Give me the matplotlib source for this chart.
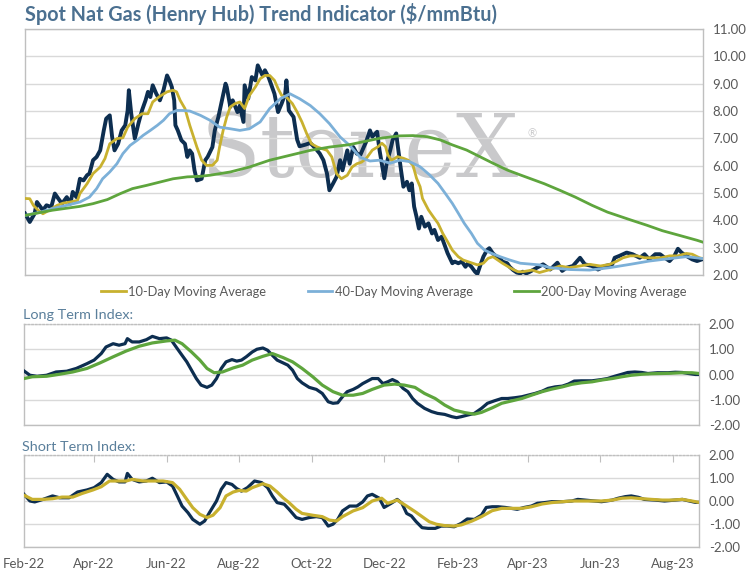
import numpy as np
import pandas as pd
import matplotlib
matplotlib.use("Agg")
import matplotlib.pyplot as plt
import matplotlib.dates as mdates

plt.rcParams['font.family'] = ['Lato', 'DejaVu Sans']

start = pd.Timestamp("2022-02-01")

# spot price, day offsets from 1 Feb 2022
spot_day = [0,4,8,10,13,15,18,22,25,28,31,35,38,40,43,46,49,52,54,57,60,63,66,68,71,73,75,78,81,84,
            86,87,89,92,95,98,101,103,105,107,110,113,116,119,121,123,125,126,128,131,134,136,138,140,142,144,
            148,151,153,157,159,162,165,168,169,172,174,178,180,183,184,187,190,193,195,199,201,204,207,209,
            212,215,218,219,221,225,228,230,235,239,243,247,250,253,255,258,261,264,266,270,272,275,278,281,
            283,286,289,291,295,297,301,303,306,308,311,312,315,317,320,322,324,326,328,330,332,335,338,341,
            343,346,349,352,354,358,360,363,366,369,371,374,377,379,381,384,387,389,392,395,398,400,404,406,
            409,412,415,417,420,423,429,434,440,446,450,454,459,465,469,475,480,486,492,494,498,504,509,515,
            519,523,528,532,536,540,544,547,550,554,559,563,567]
spot_val = [4.25,3.94,4.24,4.67,4.49,4.37,4.55,4.49,4.98,4.79,4.61,4.85,4.61,5.04,4.85,5.52,5.46,5.65,5.71,6.20,
            6.32,6.56,7.29,7.72,7.84,7.05,6.56,6.80,7.29,7.48,8.02,8.76,7.90,6.99,7.54,8.02,8.39,8.70,8.51,8.94,
            8.63,8.39,8.76,9.30,9.12,8.88,8.39,7.48,7.29,6.93,6.80,6.32,6.56,6.44,5.83,5.46,5.52,6.20,6.32,6.68,
            7.29,7.78,8.39,9.00,8.88,8.15,8.39,7.96,8.20,7.60,8.94,8.45,9.24,9.12,9.67,9.30,9.49,9.24,8.88,8.63,
            7.96,8.27,8.63,9.12,8.02,7.78,6.95,6.71,6.77,6.83,6.65,6.44,6.20,5.71,5.10,5.34,5.59,6.20,5.83,6.56,
            6.07,6.68,6.44,6.40,6.60,6.90,7.29,7.06,7.24,6.57,5.54,6.09,6.57,6.94,7.18,6.82,5.84,5.23,5.41,5.10,
            5.35,4.50,4.13,3.70,4.13,3.77,3.89,3.52,3.65,3.28,3.40,3.04,2.80,2.43,2.49,2.43,2.49,2.30,2.43,2.30,
            2.12,2.04,2.30,2.67,2.91,2.98,2.79,2.67,2.60,2.49,2.43,2.30,2.18,2.09,2.06,2.12,2.06,2.12,2.27,2.39,
            2.20,2.45,2.15,2.27,2.33,2.63,2.39,2.33,2.20,2.33,2.39,2.63,2.70,2.82,2.76,2.63,2.76,2.57,2.76,2.76,
            2.63,2.51,2.70,2.96,2.82,2.70,2.57,2.51,2.57]

ma10_day = [0,4,7,11,15,21,27,32,38,44,46,52,57,63,67,71,77,82,86,92,98,103,107,113,119,124,127,130,134,138,
            144,148,152,157,161,163,166,169,172,176,180,184,188,193,197,201,205,209,212,215,219,224,228,232,236,
            240,245,249,253,257,261,265,270,274,278,282,286,291,296,299,302,304,307,310,312,317,321,325,328,331,
            333,338,342,346,350,354,358,363,367,371,375,379,384,388,392,396,400,405,409,413,417,421,425,431,440,
            448,456,465,473,482,490,496,501,507,513,519,526,533,540,547,554,559,565,568]
ma10_val = [4.80,4.79,4.55,4.37,4.24,4.39,4.55,4.63,4.67,4.73,4.98,5.34,5.71,5.95,6.26,6.80,6.99,7.02,7.41,7.72,
            7.90,7.90,8.33,8.54,8.70,8.76,8.70,8.39,8.09,7.48,6.68,6.20,6.01,6.01,6.20,6.68,7.29,7.78,8.15,8.27,
            8.33,8.09,8.57,8.88,9.18,9.30,9.30,9.12,8.82,8.57,8.51,8.27,7.96,7.60,7.17,6.80,6.68,6.62,6.56,6.32,
            5.71,5.52,5.65,5.95,6.07,6.13,6.27,6.57,6.70,6.82,6.70,6.39,6.20,6.27,6.33,6.27,6.20,6.02,5.54,5.23,
            4.80,4.38,4.13,3.89,3.52,3.22,2.91,2.67,2.55,2.49,2.43,2.37,2.43,2.61,2.67,2.55,2.43,2.30,2.20,2.12,
            2.12,2.15,2.18,2.09,2.20,2.33,2.27,2.33,2.39,2.33,2.39,2.51,2.63,2.70,2.70,2.63,2.63,2.63,2.70,2.70,
            2.79,2.76,2.63,2.60]

ma40_day = [0,13,23,35,46,54,60,65,71,77,82,88,94,99,105,111,116,121,127,132,138,147,155,163,172,180,188,197,
            205,214,222,230,239,247,255,264,272,281,289,297,306,314,322,331,339,346,352,358,363,368,374,379,385,
            391,398,406,415,423,431,440,456,473,490,507,523,540,554,568]
ma40_val = [4.18,4.30,4.43,4.55,4.67,4.85,5.16,5.52,5.77,6.07,6.44,6.74,6.93,7.11,7.29,7.48,7.66,7.90,8.02,8.02,
            8.00,7.84,7.66,7.41,7.35,7.29,7.35,7.60,8.09,8.45,8.63,8.45,8.20,7.90,7.54,7.05,6.74,6.30,6.17,6.20,
            6.09,6.20,6.15,5.96,5.66,5.35,4.99,4.62,4.26,3.89,3.52,3.16,2.91,2.79,2.67,2.55,2.43,2.40,2.37,2.27,
            2.20,2.18,2.27,2.39,2.51,2.60,2.67,2.60]

ma200_day = [0,23,46,57,69,80,90,102,113,124,136,147,155,172,188,205,222,239,255,272,285,297,314,325,337,348,
             358,370,381,392,404,415,425,435,448,461,475,488,507,521,534,549,563,568]
ma200_val = [4.18,4.37,4.51,4.61,4.76,4.98,5.16,5.28,5.40,5.52,5.59,5.61,5.65,5.77,5.95,6.20,6.38,6.56,6.68,6.77,
             6.89,7.00,7.09,7.10,7.06,6.94,6.76,6.57,6.33,6.09,5.84,5.66,5.50,5.34,5.10,4.85,4.55,4.30,4.02,3.82,
             3.62,3.44,3.27,3.20]

lt_day = [0,5,11,19,27,36,44,53,59,65,69,75,80,85,87,91,97,103,108,114,120,124,128,133,137,141,145,149,154,158,
          162,166,170,175,179,183,187,192,196,201,205,209,213,218,222,226,230,234,240,246,251,256,260,264,268,
          272,277,281,285,289,293,298,302,306,310,314,319,323,327,331,337,343,348,354,360,364,368,373,379,385,
          390,396,402,407,413,419,424,430,436,441,447,453,458,463,469,478,486,491,497,503,508,514,520,525,533,
          542,548,554,559,565,568]
lt_val = [0.14,-0.03,-0.07,-0.03,0.10,0.13,0.24,0.43,0.57,0.83,1.09,1.22,1.16,1.22,1.42,1.29,1.29,1.38,1.51,1.42,
          1.45,1.36,1.09,0.76,0.50,0.17,-0.16,-0.42,-0.51,-0.42,-0.16,0.24,0.50,0.59,0.53,0.57,0.70,0.89,1.00,1.05,
          0.96,0.76,0.57,0.46,0.37,0.17,-0.16,-0.33,-0.51,-0.59,-0.75,-1.08,-1.14,-1.12,-0.88,-0.68,-0.59,-0.49,
          -0.36,-0.26,-0.16,-0.16,-0.36,-0.29,-0.20,-0.29,-0.55,-0.68,-0.95,-1.14,-1.34,-1.47,-1.54,-1.58,-1.67,
          -1.71,-1.67,-1.61,-1.54,-1.34,-1.14,-1.04,-0.95,-0.95,-0.92,-0.88,-0.82,-0.75,-0.66,-0.55,-0.49,-0.46,
          -0.38,-0.26,-0.25,-0.25,-0.20,-0.16,-0.07,0.01,0.08,0.10,0.08,0.04,0.07,0.07,0.09,0.08,0.04,0.00,0.00]

lt_ma_day = [0,7,19,30,41,53,64,75,86,97,108,120,127,133,141,148,154,160,167,176,184,192,201,209,218,226,234,
             243,251,260,268,277,285,293,303,312,320,329,337,346,354,362,371,379,385,394,402,410,419,427,436,444,
             453,461,469,478,486,495,503,511,520,528,537,545,554,562,568]
lt_ma_val = [-0.16,-0.09,-0.07,0.01,0.10,0.24,0.46,0.70,0.93,1.12,1.25,1.33,1.36,1.22,0.89,0.57,0.24,0.07,0.10,
             0.26,0.37,0.57,0.72,0.83,0.67,0.50,0.24,-0.09,-0.42,-0.68,-0.82,-0.82,-0.75,-0.59,-0.42,-0.38,-0.42,
             -0.51,-0.75,-0.95,-1.21,-1.41,-1.51,-1.57,-1.50,-1.32,-1.14,-1.05,-0.95,-0.82,-0.68,-0.58,-0.49,-0.39,
             -0.33,-0.29,-0.22,-0.16,-0.09,-0.03,0.01,0.03,0.04,0.05,0.07,0.07,0.04]

st_day = [0,5,9,16,24,30,38,45,53,59,65,70,75,80,85,87,91,97,103,108,114,120,125,129,133,138,142,148,152,156,
          162,166,170,175,179,183,188,194,200,205,209,213,219,223,229,234,240,246,251,256,260,264,268,274,280,
          285,289,293,299,303,309,314,318,322,326,330,335,340,346,351,356,362,368,373,379,385,389,394,399,405,
          410,415,421,427,432,438,444,453,461,466,472,478,486,495,500,506,511,517,522,531,539,548,554,559,565,568]
st_val = [0.29,0.00,-0.04,0.07,0.22,0.14,0.14,0.39,0.48,0.58,0.80,1.16,0.94,0.83,0.83,1.20,0.94,0.83,0.87,0.99,
          0.80,0.83,0.65,0.22,-0.22,-0.51,-0.80,-1.01,-0.87,-0.51,0.00,0.51,0.80,0.72,0.54,0.43,0.58,0.87,0.80,
          0.58,0.22,-0.07,-0.14,-0.36,-0.72,-0.80,-0.72,-0.68,-0.72,-1.09,-1.01,-0.80,-0.43,-0.22,-0.22,-0.04,
          0.22,0.29,0.12,-0.28,-0.10,0.07,-0.10,-0.54,-0.65,-0.90,-1.16,-1.19,-1.19,-1.09,-1.09,-1.12,-0.97,-0.78,
          -0.80,-0.61,-0.28,-0.25,-0.25,-0.28,-0.32,-0.36,-0.28,-0.22,-0.10,-0.07,-0.03,-0.03,0.00,0.07,0.04,0.01,
          -0.03,0.04,0.12,0.19,0.22,0.16,0.07,0.04,0.00,0.04,0.07,0.01,-0.06,-0.06]

st_ma_day = [0,7,16,24,32,41,49,58,65,72,79,86,91,100,108,117,125,131,137,142,148,154,159,165,170,176,181,187,
             192,201,207,213,218,223,229,234,243,251,257,263,268,277,285,293,301,306,314,322,329,335,341,347,354,
             362,368,377,385,394,402,410,419,427,436,444,453,461,469,478,486,495,503,511,520,528,537,545,554,562,568]
st_ma_val = [0.25,0.07,0.07,0.10,0.17,0.17,0.33,0.48,0.62,0.87,0.87,0.87,0.94,0.87,0.87,0.87,0.80,0.51,0.07,
             -0.29,-0.58,-0.72,-0.62,-0.29,0.22,0.39,0.46,0.43,0.58,0.75,0.65,0.39,0.14,-0.07,-0.36,-0.54,-0.62,
             -0.68,-0.83,-0.87,-0.68,-0.43,-0.29,0.00,0.12,-0.10,0.04,-0.22,-0.46,-0.68,-0.90,-1.01,-1.07,-1.09,
             -1.04,-0.87,-0.68,-0.42,-0.32,-0.32,-0.32,-0.25,-0.13,-0.07,-0.03,0.00,0.00,0.00,0.00,0.04,0.12,0.14,
             0.10,0.07,0.04,0.04,0.07,0.00,-0.06]

month_ticks = ["2022-02-01","2022-04-01","2022-06-01","2022-08-01","2022-10-01","2022-12-01",
               "2023-02-01","2023-04-01","2023-06-01","2023-08-01"]

NAVY = "#0d2e50"
GOLD = "#c8b12f"
BLUE = "#7cb0d8"
GREEN = "#5ea53d"
GRID = "#d9d9d9"
EDGE = "#bfbfbf"
TXT = "#595959"
TITLE = "#4b7090"


def to_dates(days):
    return start + pd.to_timedelta(days, unit="D")


x_lo = start
x_hi = start + pd.Timedelta(days=568)

fig = plt.figure(figsize=(7.51, 5.73), dpi=100)
ax1 = fig.add_axes([25/751, 1-275/573, 678/751, 246/573])
ax2 = fig.add_axes([24/751, 1-425/573, 675/751, 101/573])
ax3 = fig.add_axes([24/751, 1-547/573, 675/751, 92/573])

# watermark behind the lines
ax1.text(0.494, 0.50, "StoneX", transform=ax1.transAxes, ha="center", va="center",
         fontsize=63, family="DejaVu Serif", color="#c9c9cb", zorder=0)
ax1.text(0.748, 0.575, "®", transform=ax1.transAxes, ha="center", va="center",
         fontsize=8, color="#c9c9cb", zorder=0)

ax1.plot(to_dates(spot_day), spot_val, color=NAVY, lw=2.8, zorder=3, solid_joinstyle="round")
l10, = ax1.plot(to_dates(ma10_day), ma10_val, color=GOLD, lw=2.0, zorder=4, label="10-Day Moving Average")
l40, = ax1.plot(to_dates(ma40_day), ma40_val, color=BLUE, lw=2.0, zorder=4, label="40-Day Moving Average")
l200, = ax1.plot(to_dates(ma200_day), ma200_val, color=GREEN, lw=2.0, zorder=4, label="200-Day Moving Average")
ax1.set_ylim(2, 11)
ax1.set_yticks(np.arange(2, 11.5, 1))

ax2.plot(to_dates(lt_day), lt_val, color=NAVY, lw=2.3, zorder=3)
ax2.plot(to_dates(lt_ma_day), lt_ma_val, color=GREEN, lw=2.3, zorder=4)
ax3.plot(to_dates(st_day), st_val, color=NAVY, lw=2.3, zorder=3)
ax3.plot(to_dates(st_ma_day), st_ma_val, color=GOLD, lw=2.3, zorder=4)

for ax in (ax2, ax3):
    ax.set_ylim(-2, 2)
    ax.set_yticks([-2, -1, 0, 1, 2])

for ax in (ax1, ax2, ax3):
    ax.set_xlim(x_lo, x_hi)
    ax.grid(axis="y", color=GRID, lw=1)
    ax.set_axisbelow(True)
    for s in ax.spines.values():
        s.set_color(EDGE)
        s.set_linewidth(1)
    ax.yaxis.tick_right()
    ax.yaxis.set_major_formatter(plt.FuncFormatter(lambda v, p: f"{v:.2f}"))
    ax.tick_params(axis="y", length=0, pad=7, labelsize=9.5, labelcolor=TXT)
    ax.set_xticks(pd.to_datetime(month_ticks))

ax2.spines["top"].set_linestyle(":")
ax3.spines["top"].set_linestyle(":")
ax1.tick_params(axis="x", length=0, labelbottom=False)
ax2.tick_params(axis="x", length=0, labelbottom=False)
ax3.xaxis.set_major_formatter(mdates.DateFormatter("%b-%y"))
ax3.tick_params(axis="x", top=True, bottom=False, direction="in", length=5, color=EDGE,
                labelsize=9.5, labelcolor=TXT, pad=8)

fig.text(25/751, 1-14/573, "Spot Nat Gas (Henry Hub) Trend Indicator ($/mmBtu)", ha="left", va="center",
         fontsize=14.2, fontweight="bold", color=TITLE)
fig.text(23/751, 1-315/573, "Long Term Index:", ha="left", va="center", fontsize=10.4, color="#5a7f9b")
fig.text(22/751, 1-447/573, "Short Term Index:", ha="left", va="center", fontsize=10.4, color="#5a7f9b")

fig.legend(handles=[l10, l40, l200], loc="center", bbox_to_anchor=(394/751, 1-292/573), ncol=3,
           frameon=False, fontsize=9.3, labelcolor=TXT, handlelength=1.9, handletextpad=0.2,
           columnspacing=3.2, borderpad=0)

fig.savefig("out.png", dpi=100)
